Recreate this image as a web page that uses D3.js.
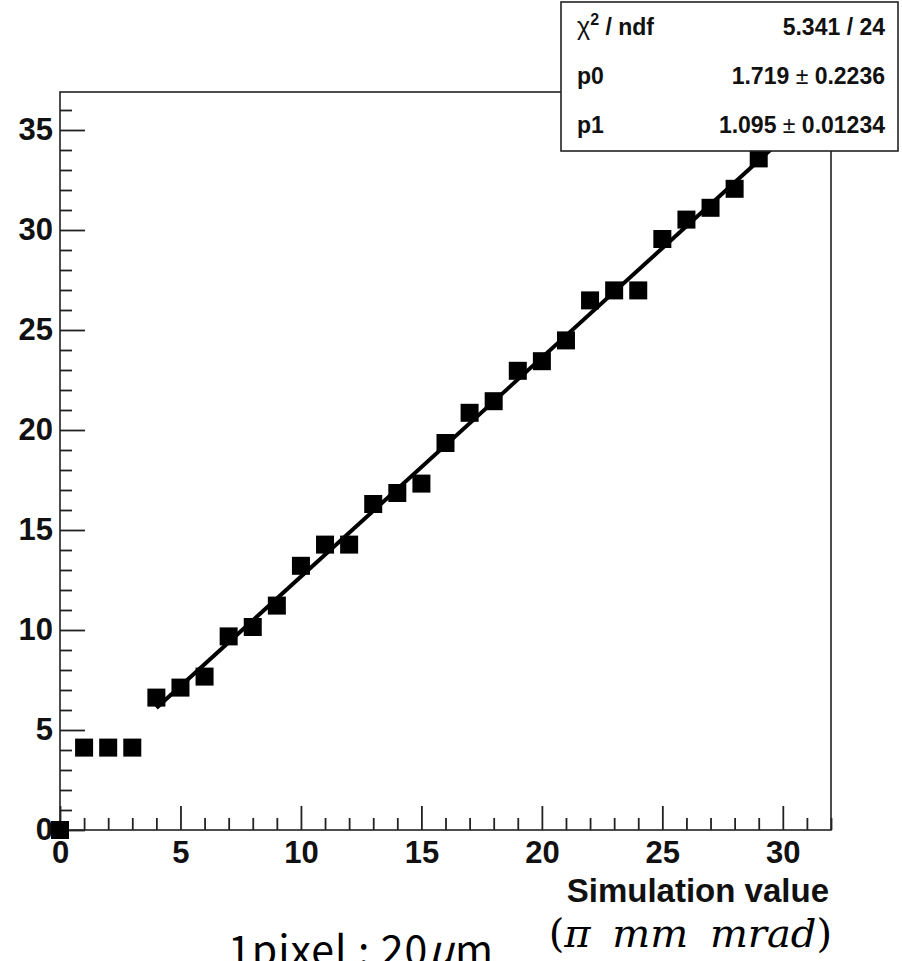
<!DOCTYPE html>
<html>
<head>
<meta charset="utf-8">
<script src="https://cdn.jsdelivr.net/npm/d3@7"></script>
<style>
  body { margin: 0; background: #fff; }
  svg { display: block; }
</style>
</head>
<body>
<div id="chart"></div>
<script>
// measured points (x = simulation value, y = measured value)
const simValues = [0, 1, 2, 3, 4, 5, 6, 7, 8, 9, 10, 11, 12, 13, 14, 15, 16, 17, 18, 19, 20, 21, 22, 23, 24, 25, 26, 27, 28, 29];
const measured  = [0, 4.12, 4.12, 4.12, 6.62, 7.12, 7.67, 9.68, 10.15, 11.22, 13.21, 14.27, 14.27, 16.3, 16.85, 17.32,
                   19.35, 20.86, 21.44, 22.96, 23.44, 24.48, 26.48, 26.98, 26.98, 29.55, 30.52, 31.11, 32.06, 33.58];

// fit result (pol1)
const p0 = 1.719, p1 = 1.095;
const fitRange = [4, 31];

// stats box rows
const statLabels = ["χ² / ndf", "p0", "p1"];
const statValues = [["5.341 / 24"], ["1.719", "0.2236"], ["1.095", "0.01234"]];

const xMajor = [0, 5, 10, 15, 20, 25, 30];
const yMajor = [0, 5, 10, 15, 20, 25, 30, 35];

const W = 902, H = 961;
const plot = { left: 60, right: 831, top: 92, bottom: 830 };

const svg = d3.select("#chart").append("svg")
    .attr("width", W)
    .attr("height", H);

svg.append("rect").attr("width", W).attr("height", H).attr("fill", "#fff");

const x = d3.scaleLinear().domain([0, 32]).range([plot.left, plot.right]);
const y = d3.scaleLinear().domain([0, 36.9]).range([plot.bottom, plot.top]);

const tickFont = "'Liberation Sans', Arial, Helvetica, sans-serif";

// frame
svg.append("rect")
    .attr("x", plot.left)
    .attr("y", plot.top)
    .attr("width", plot.right - plot.left)
    .attr("height", plot.bottom - plot.top)
    .attr("fill", "none")
    .attr("stroke", "#222")
    .attr("stroke-width", 1.6);

// x axis - major ticks with labels, minor ticks without
svg.append("g")
    .attr("transform", `translate(0,${plot.bottom})`)
    .call(d3.axisBottom(x).tickValues(xMajor).tickSize(-24).tickPadding(11).tickFormat(d3.format("d")));

svg.append("g")
    .attr("transform", `translate(0,${plot.bottom})`)
    .call(d3.axisBottom(x).tickValues(d3.range(0, 33).filter(d => d % 5 !== 0)).tickSize(-12).tickFormat(""));

// y axis
svg.append("g")
    .attr("transform", `translate(${plot.left},0)`)
    .call(d3.axisLeft(y).tickValues(yMajor).tickSize(-25).tickPadding(7).tickFormat(d3.format("d")));

svg.append("g")
    .attr("transform", `translate(${plot.left},0)`)
    .call(d3.axisLeft(y).tickValues(d3.range(0, 37).filter(d => d % 5 !== 0)).tickSize(-12).tickFormat(""));

svg.selectAll(".domain").remove();
svg.selectAll(".tick line").attr("stroke", "#222").attr("stroke-width", 1.8);
svg.selectAll(".tick text")
    .attr("fill", "#111")
    .style("font-family", tickFont)
    .style("font-weight", "bold")
    .style("font-size", "31px");

// fit line
const fitLine = d3.line()
    .x(d => x(d))
    .y(d => y(p0 + p1 * d));

svg.append("path")
    .attr("d", fitLine(fitRange))
    .attr("fill", "none")
    .attr("stroke", "#000")
    .attr("stroke-width", 4);

// markers
const size = 18;
svg.append("g").selectAll("rect")
    .data(simValues.map((v, i) => [v, measured[i]]))
    .enter().append("rect")
    .attr("x", d => x(d[0]) - size / 2)
    .attr("y", d => y(d[1]) - size / 2)
    .attr("width", size)
    .attr("height", size)
    .attr("fill", "#000");

// stats box
const box = svg.append("g");
box.append("rect")
    .attr("x", 561).attr("y", 2)
    .attr("width", 337).attr("height", 149)
    .attr("fill", "#fff")
    .attr("stroke", "#222")
    .attr("stroke-width", 1.6);

const rowY = [35, 84, 133];
statLabels.forEach((lab, i) => {
    const t = box.append("text")
        .attr("x", 577).attr("y", rowY[i])
        .style("font-family", tickFont)
        .style("font-weight", "bold")
        .style("font-size", "23px")
        .attr("fill", "#111");
    if (i === 0) {
        t.append("tspan").style("font-weight", "normal").style("font-size", "25px").text("χ");
        t.append("tspan").attr("dy", -10).style("font-size", "16px").text("2");
        t.append("tspan").attr("dy", 10).text(" / ndf");
    } else {
        t.text(lab);
    }
    const v = box.append("text")
        .attr("x", 885).attr("y", rowY[i])
        .attr("text-anchor", "end")
        .style("font-family", tickFont)
        .style("font-weight", "bold")
        .style("font-size", "23px")
        .attr("fill", "#111");
    if (statValues[i].length === 1) {
        v.text(statValues[i][0]);
    } else {
        v.append("tspan").text(statValues[i][0] + " ");
        v.append("tspan").style("font-weight", "normal").text("±");
        v.append("tspan").text(" " + statValues[i][1]);
    }
});

// axis title
svg.append("text")
    .attr("x", 829).attr("y", 902)
    .attr("text-anchor", "end")
    .style("font-family", tickFont)
    .style("font-weight", "bold")
    .style("font-size", "33px")
    .attr("fill", "#111")
    .text("Simulation value");

// unit line
const unit = svg.append("text")
    .attr("x", 832).attr("y", 947)
    .attr("text-anchor", "end")
    .style("font-family", "'DejaVu Serif', 'Liberation Serif', serif")
    .style("font-size", "40px")
    .style("word-spacing", "9px")
    .attr("fill", "#000");
unit.append("tspan").text("(");
unit.append("tspan").style("font-style", "italic").text("π mm mrad");
unit.append("tspan").text(")");

// pixel scale note (cut by the bottom edge, as in the original)
const note = svg.append("text")
    .attr("x", 228).attr("y", 965)
    .attr("textLength", 265)
    .attr("lengthAdjust", "spacing")
    .style("font-family", "'Noto Sans CJK KR', 'Noto Sans', sans-serif")
    .style("font-size", "41px")
    .attr("fill", "#000");
note.append("tspan").text("1pixel : 20");
note.append("tspan").style("font-style", "italic").text("μ");
note.append("tspan").text("m");
</script>
</body>
</html>
